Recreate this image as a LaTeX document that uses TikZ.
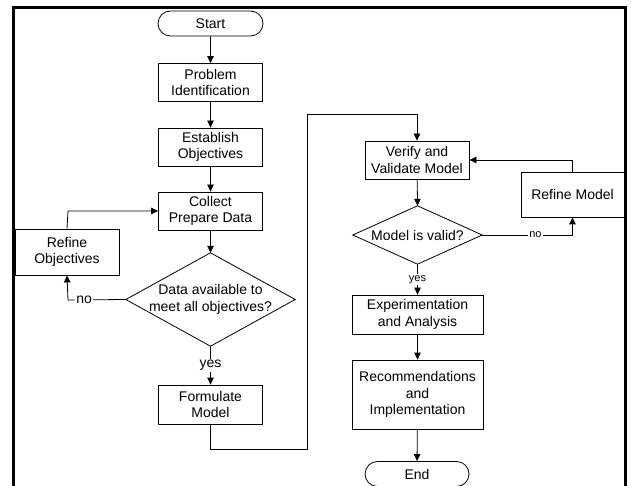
\documentclass[tikz,border=0pt]{standalone}
\usepackage{fontspec}
\setmainfont{Liberation Sans}
\usetikzlibrary{arrows.meta,shapes.misc}
\begin{document}
\begin{tikzpicture}[x=1pt,y=-1pt,
  box/.style={draw, line width=0.8pt, inner sep=0pt, align=center,
              font=\fontsize{14}{16.5}\selectfont},
  term/.style={box, rounded rectangle},
  dbox/.style={inner sep=0pt, align=center, font=\fontsize{14}{16.5}\selectfont},
  conn/.style={line width=0.8pt},
  arr/.style={conn, -{Triangle[length=7pt,width=6.5pt]}},
  lab/.style={fill=white, inner sep=1pt, font=\fontsize{14}{16.5}\selectfont},
  slab/.style={fill=white, inner sep=1pt, font=\fontsize{11}{13}\selectfont}]
\useasboundingbox (0,0) rectangle (631,486);
% frame
\draw[line width=2.2pt] (13.5,495) -- (13.5,7.5) -- (625.5,7.5) -- (625.5,495);

% left column
\node[term, minimum width=105pt, minimum height=25pt] (start) at (210.5,23.5) {Start};
\node[box, minimum width=104pt, minimum height=38pt] (prob) at (210.5,82.5) {Problem\\Identification};
\node[box, minimum width=104pt, minimum height=38pt] (estab) at (210.5,147) {Establish\\Objectives};
\node[box, minimum width=104pt, minimum height=38pt] (coll) at (210.5,211) {Collect\\Prepare Data};
\node[box, minimum width=104pt, minimum height=46pt] (refobj) at (67,252) {Refine\\Objectives};
\node[dbox, minimum width=169pt, minimum height=93pt] (d1) at (210.5,299.5) {Data available to\\meet all objectives?};
\draw[line width=0.8pt] (d1.north) -- (d1.east) -- (d1.south) -- (d1.west) -- cycle;
\node[box, minimum width=104pt, minimum height=39pt] (form) at (210.5,404.5) {Formulate\\Model};

% right column
\node[box, minimum width=104pt, minimum height=38pt] (ver) at (417,160) {Verify and\\Validate Model};
\node[box, minimum width=103pt, minimum height=45pt] (refmod) at (572.5,194.5) {Refine Model};
\node[dbox, minimum width=129pt, minimum height=58pt] (d2) at (417.5,235) {Model is valid?};
\draw[line width=0.8pt] (d2.north) -- (d2.east) -- (d2.south) -- (d2.west) -- cycle;
\node[box, minimum width=131pt, minimum height=39pt] (exp) at (417.5,314.5) {Experimentation\\and Analysis};
\node[box, minimum width=131pt, minimum height=69pt] (rec) at (417.5,394.5) {Recommendations\\and\\Implementation};
\node[term, minimum width=104pt, minimum height=25pt] (end) at (417,474) {End};

\coordinate (c1) at (68,300);
\coordinate (c2) at (68,211);
\coordinate (c3) at (210.5,449);
\coordinate (c4) at (307,449);
\coordinate (c5) at (307,114);
\coordinate (c6) at (417,114);
\coordinate (c7) at (572.5,235);
\coordinate (c8) at (572.5,160);

% connectors
\draw[arr] (start) -- (prob);
\draw[arr] (prob) -- (estab);
\draw[arr] (estab) -- (coll);
\draw[arr] (coll) -- (d1.north);
\draw[arr] (d1.south) -- node[lab]{yes} (form.north);
\draw[arr] (d1.west) -- node[lab, pos=0.72]{no} (c1) -- (refobj.south);
\draw[arr] (refobj.north) -- (c2) -- (coll.west);
\draw[arr] (form.south) -- (c3) -- (c4) -- (c5) -- (c6) -- (ver.north);
\draw[arr] (ver) -- (d2.north);
\draw[arr] (d2.east) -- node[slab, pos=0.59]{no} (c7) -- (refmod.south);
\draw[arr] (refmod.north) -- (c8) -- (ver.east);
\draw[arr] (d2.south) -- node[slab]{yes} (exp.north);
\draw[arr] (exp) -- (rec);
\draw[arr] (rec) -- (end);
\end{tikzpicture}
\end{document}
